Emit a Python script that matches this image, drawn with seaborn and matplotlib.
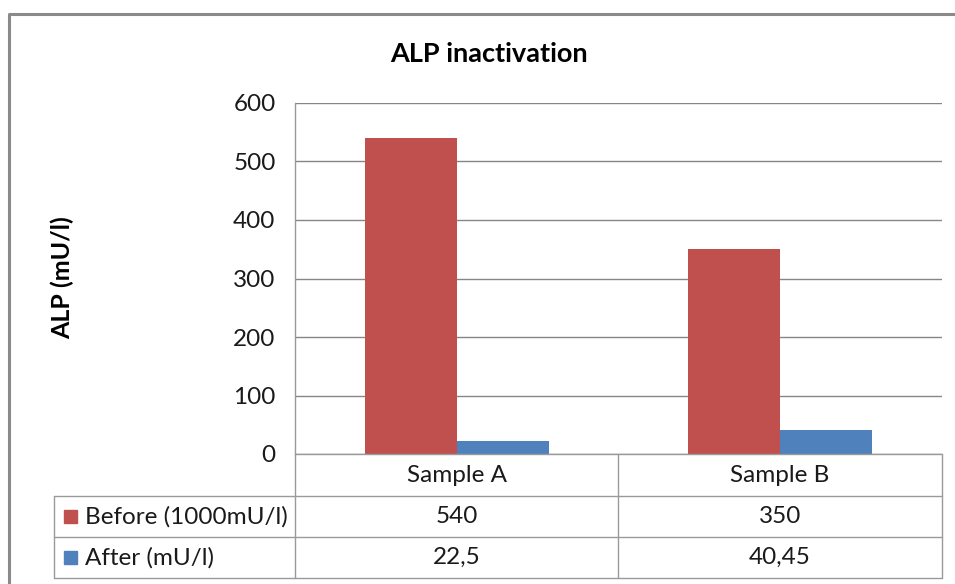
import matplotlib
matplotlib.use("Agg")
import matplotlib.pyplot as plt
import seaborn as sns
import pandas as pd
from matplotlib.patches import Rectangle

categories = ["Sample A", "Sample B"]
series_names = ["Before (1000mU/l)", "After (mU/l)"]
before = [540, 350]
after = [22.5, 40.45]
colors = ["#C0504D", "#4F81BD"]
yticks = [0, 100, 200, 300, 400, 500, 600]
title = "ALP inactivation"
ylabel = "ALP (mU/l)"

sns.set_theme(style="white")
plt.rcParams["font.family"] = ["Lato", "DejaVu Sans"]

df = pd.DataFrame({
    "cat": categories * 2,
    "series": [series_names[0]] * 2 + [series_names[1]] * 2,
    "val": before + after,
})

FS = 17.5
TXT = "#1a1a1a"
W, H = 955, 584
fig = plt.figure(figsize=(W / 100, H / 100), dpi=100)
x0, x1, y0, y1 = 295, 942, 103, 454
ax = fig.add_axes([x0 / W, 1 - y1 / H, (x1 - x0) / W, (y1 - y0) / H])
sns.barplot(data=df, x="cat", y="val", hue="series", palette=colors,
            width=0.57, gap=0, saturation=1, legend=False, ax=ax, zorder=3,
            linewidth=0, edgecolor="none")
ax.set_ylim(0, 600)
ax.set_xlim(-0.5, 1.5)
ax.set_yticks(yticks)
ax.set_yticklabels([str(t) for t in yticks], fontsize=FS, color=TXT)
ax.tick_params(axis="y", length=0, pad=14)
ax.set_xticks([])
ax.set_xlabel("")
ax.set_ylabel("")
for t in yticks:
    ax.axhline(t, color="#868686", lw=1, zorder=1)
for s in ["top", "right", "bottom"]:
    ax.spines[s].set_visible(False)
ax.spines["left"].set_color("#9a9a9a")
ax.spines["left"].set_linewidth(1)

ov2 = fig.add_axes([0, 0, 1, 1], zorder=5)
ov2.set_xlim(0, W)
ov2.set_ylim(H, 0)
ov2.axis("off")
ov2.patch.set_alpha(0)

# outer frame
ov2.plot([9, 9, 960], [600, 14, 14], color="#8a8a8a", lw=2.2, solid_capstyle="butt")

ov2.text(489, 54, title, ha="center", va="center", fontsize=19.5, fontweight="bold", color="#000000")
ov2.text(62, 278, ylabel, ha="center", va="center", rotation=90, fontsize=18, fontweight="bold", color="#000000")

gc = "#9a9a9a"
row_y = [454, 496, 537, 578]
ov2.plot([295, 942], [454, 454], color=gc, lw=1)
ov2.plot([295, 942], [496, 496], color=gc, lw=1)
ov2.plot([54, 295], [496, 496], color=gc, lw=1)
ov2.plot([54, 942], [537, 537], color=gc, lw=1)
ov2.plot([54, 942], [578, 578], color=gc, lw=1)
ov2.plot([54, 54], [496, 578], color=gc, lw=1)
ov2.plot([295, 295], [454, 578], color=gc, lw=1)
ov2.plot([618, 618], [454, 578], color=gc, lw=1)
ov2.plot([942, 942], [454, 578], color=gc, lw=1)

cat_cx = [(295 + 618) / 2, (618 + 942) / 2]
for cx, c in zip(cat_cx, categories):
    ov2.text(cx, 475, c, ha="center", va="center", fontsize=FS, color=TXT)

fmt = lambda v: (f"{v:g}").replace(".", ",")
rows = [before, after]
for i, (name, vals, col) in enumerate(zip(series_names, rows, colors)):
    yc = (row_y[i + 1] + row_y[i + 2]) / 2
    ov2.add_patch(Rectangle((64, yc - 6.5), 13, 13, color=col))
    ov2.text(85, yc, name, ha="left", va="center", fontsize=FS, color=TXT)
    for cx, v in zip(cat_cx, vals):
        ov2.text(cx, yc, fmt(v), ha="center", va="center", fontsize=FS, color=TXT)

fig.savefig("out.png", dpi=100)
